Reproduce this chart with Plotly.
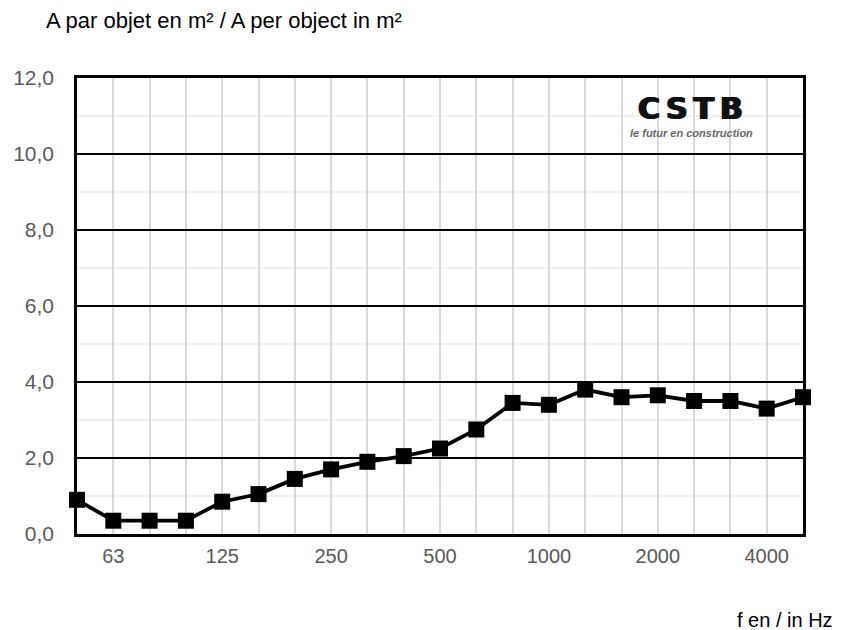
import plotly.graph_objects as go

freqs = ["50", "63", "80", "100", "125", "160", "200", "250", "315", "400", "500",
         "630", "800", "1000", "1250", "1600", "2000", "2500", "3150", "4000", "5000"]
values = [0.9, 0.35, 0.35, 0.35, 0.85, 1.05, 1.45, 1.7, 1.9, 2.05, 2.25,
          2.75, 3.45, 3.4, 3.8, 3.6, 3.65, 3.5, 3.5, 3.3, 3.6]
labelled = ["63", "125", "250", "500", "1000", "2000", "4000"]
tick_text = [f if f in labelled else "" for f in freqs]

title_text = "A par objet en m² / A per object in m²"
xlabel_text = "f en / in Hz"

# page body adds an 8px offset; compensate in margins
OFF = 8
W, H = 846, 630
L, T, PW, PH = 77 - OFF, 78 - OFF, 726, 456

fig = go.Figure()
fig.add_trace(go.Scatter(
    x=freqs, y=values, mode="lines+markers",
    line=dict(color="black", width=3.8),
    marker=dict(symbol="square", size=16, color="black"),
    showlegend=False, cliponaxis=False,
))

def px(xw):  # window x -> paper x
    return (xw - 77) / PW

def py(yw):  # window y -> paper y
    return (534 - yw) / PH

fig.update_layout(
    width=W, height=H,
    margin=dict(l=L, r=W - L - PW, t=T, b=H - T - PH, autoexpand=False),
    paper_bgcolor="white", plot_bgcolor="white",
    separators=", ",
    font=dict(family="Liberation Sans, Arial, sans-serif", color="black"),
    title=dict(text=title_text, x=(46 - OFF) / W, xanchor="left", y=1 - (20 - OFF) / H,
               yanchor="middle", font=dict(size=22, color="black")),
    xaxis=dict(type="category", categoryorder="array", categoryarray=freqs,
               range=[0, len(freqs) - 1], tickmode="array", tickvals=freqs, ticktext=tick_text,
               showgrid=True, gridcolor="#d9d9d9", gridwidth=2,
               showline=True, linecolor="black", linewidth=2.5, mirror=True,
               ticks="", ticklabelstandoff=2,
               tickfont=dict(family="Liberation Sans Narrow, Arial Narrow, Liberation Sans, sans-serif",
                             size=20, color="#595959")),
    yaxis=dict(range=[0, 12], dtick=2, tick0=0, tickformat=".1f",
               showgrid=True, gridcolor="black", gridwidth=1.5, zeroline=False,
               showline=True, linecolor="black", linewidth=2.5, mirror=True,
               ticks="", ticklabelstandoff=16,
               tickfont=dict(size=21, color="#595959")),
    shapes=[dict(type="rect", xref="paper", yref="paper",
                 x0=px(612), x1=px(777), y0=py(147), y1=py(82),
                 fillcolor="white", line=dict(width=0), layer="between")],
    annotations=[
        dict(text="<b>C\u2009S\u2009T\u2009B</b>", xref="paper", yref="paper",
             x=px(690.5), y=py(108), xanchor="center", yanchor="middle",
             showarrow=False,
             font=dict(family="DejaVu Sans, sans-serif", size=30, color="#111111",
                       shadow="1px 0px 0px #111111, -1px 0px 0px #111111")),
        dict(text="<b><i>le futur en construction</i></b>", xref="paper", yref="paper",
             x=px(691), y=py(133), xanchor="center", yanchor="middle",
             showarrow=False, font=dict(family="Liberation Sans Narrow, Liberation Sans, sans-serif",
                                        size=11, color="#666666")),
        dict(text=xlabel_text, xref="paper", yref="paper",
             x=px(835), y=py(620), xanchor="right", yanchor="middle",
             showarrow=False, font=dict(size=20, color="black")),
    ],
)
fig.update_yaxes(minor=dict(dtick=1, showgrid=True, gridcolor="#f0f0f0", gridwidth=1.5))

fig.write_html("out.html")
